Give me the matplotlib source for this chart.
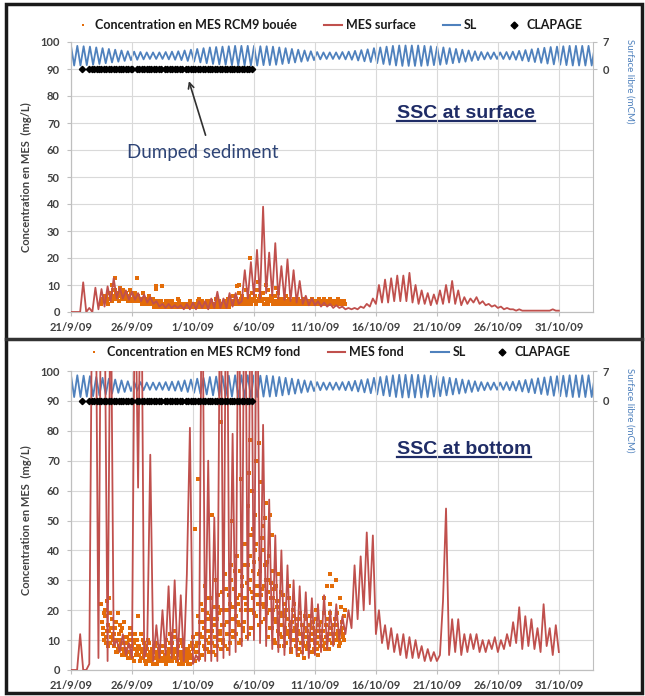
import matplotlib
matplotlib.use('Agg')
import matplotlib.pyplot as plt
import numpy as np
from matplotlib.lines import Line2D

plt.rcParams['font.family'] = ['Lato', 'DejaVu Sans']

ORANGE = '#E36C09'
RED = '#C0504D'
BLUE = '#4F81BD'
GRID = '#D9D9D9'
TXT = '#404040'

# x axis: days since 21/9/09
tick_days = [0, 5, 10, 15, 20, 25, 30, 35, 40]
tick_labels = ['21/9/09', '26/9/09', '1/10/09', '6/10/09', '11/10/09',
               '16/10/09', '21/10/09', '26/10/09', '31/10/09']

# SL (surface libre, mCM) - high and low water of each tide
sl_high = [6.0, 6.0, 5.9, 5.8, 5.6, 5.4, 5.2, 5.0, 4.8, 4.6, 4.5, 4.4,
           4.3, 4.3, 4.3, 4.4, 4.5, 4.6, 4.8, 5.0, 5.2, 5.4, 5.6, 5.7,
           5.8, 5.9, 6.0, 6.0, 6.0, 6.0, 5.9, 5.9, 5.8, 5.6, 5.4, 5.2,
           5.0, 4.8, 4.6, 4.4, 4.3, 4.3, 4.3, 4.4, 4.5, 4.7, 4.9, 5.1,
           5.4, 5.6, 5.8, 6.0, 6.1, 6.1, 6.1, 6.1, 6.0, 5.9, 5.8, 5.6,
           5.4, 5.2, 5.0, 4.8, 4.6, 4.4, 4.3, 4.3, 4.3, 4.4, 4.5, 4.7,
           4.9, 5.1, 5.3, 5.5, 5.7, 5.8, 5.9, 6.0, 6.0, 6.0, 6.0, 6.0]
sl_low = [0.9, 0.9, 1.0, 1.1, 1.3, 1.5, 1.7, 1.9, 2.1, 2.3, 2.4, 2.5,
          2.6, 2.6, 2.6, 2.5, 2.4, 2.3, 2.1, 1.9, 1.7, 1.5, 1.3, 1.2,
          1.1, 1.0, 0.9, 0.9, 0.9, 0.9, 1.0, 1.0, 1.1, 1.3, 1.5, 1.7,
          1.9, 2.1, 2.3, 2.5, 2.6, 2.6, 2.6, 2.5, 2.4, 2.2, 2.0, 1.8,
          1.5, 1.3, 1.1, 0.9, 0.8, 0.8, 0.8, 0.8, 0.9, 1.0, 1.1, 1.3,
          1.5, 1.7, 1.9, 2.1, 2.3, 2.5, 2.6, 2.6, 2.6, 2.5, 2.4, 2.2,
          2.0, 1.8, 1.6, 1.4, 1.2, 1.1, 1.0, 0.9, 0.9, 0.9, 0.9, 0.9]
TIDE = 0.5175  # days per tide

# MES model series, every 6 h from 21/9
mes_surface = [0, 0, 0, 0, 11, 0, 1.5, 0, 9, 1, 8.5, 2, 9.5, 4, 12.5, 5,
               9, 5, 8, 4.5, 7.5, 4.5, 7, 4, 6.5, 3.5, 5.5, 3, 4, 2, 3, 1.5,
               3, 1.5, 2.5, 1.5, 2.5, 1, 3, 1, 3.5, 1, 4, 1.5, 4, 1, 5, 1.5,
               7.5, 1.5, 5, 1.5, 7, 2, 7, 3, 4, 15.5, 5, 18.5, 6, 23, 5, 39,
               7, 22, 6, 25.5, 5, 17, 4.5, 19.5, 4, 15.5, 3.5, 11.5, 3, 6, 2.5, 5,
               2.5, 4, 2, 3.5, 2, 3, 1.5, 2.5, 1.5, 2, 1, 1.5, 1, 1.5, 1, 2,
               1.5, 3, 2, 5, 3, 10, 3.5, 12, 3.5, 12.5, 4, 13.5, 4, 13.5, 4, 14.5,
               3.5, 10, 3, 8, 3, 7, 2.5, 6.5, 3, 8, 3, 10, 3.5, 11.5, 3, 8,
               2.5, 5.5, 3, 5, 3.5, 5.5, 3, 4, 2.5, 3, 2, 2.5, 1.5, 2, 1, 1.5,
               1, 1, 0.5, 1, 0.5, 0.5, 0.5, 0.5, 0.5, 0.5, 0.5, 0.5, 0.5, 0.5, 1, 0.5,
               0.5]
mes_fond = [0, 0, 0, 12, 0, 0, 2, 140, 150, 4, 160, 130, 3, 140, 8, 10,
            6, 12, 5, 9, 4, 140, 61, 150, 4, 8, 72, 3, 15, 4, 20, 5,
            28, 4, 30, 3, 25, 3, 32, 81, 2, 5, 3, 150, 3, 70, 3, 51,
            3, 150, 4, 160, 5, 79, 6, 150, 8, 160, 10, 150, 10, 150, 9, 82,
            8, 57, 7, 45, 6, 40, 5, 35, 6, 30, 5, 28, 5, 26, 4, 24,
            5, 22, 6, 25, 7, 20, 8, 22, 10, 18, 12, 20, 14, 35, 17, 38,
            20, 46, 22, 45, 12, 20, 9, 15, 7, 14, 6, 12, 5, 12, 4, 11,
            4, 10, 4, 8, 3, 7, 3, 6, 3, 5, 23, 54, 5, 17, 6, 17,
            5, 12, 6, 12, 7, 12, 6, 10, 6, 10, 7, 11, 6, 10, 7, 12,
            8, 16, 9, 21, 7, 18, 8, 17, 7, 14, 6, 22, 8, 14, 5, 15,
            6]
MES_STEP = 0.25

# RCM9 measurements, every 3 h from 23/9 12h (interleaved records)
rcm9_bouee_a = [3, 5, 4, 6, 3, 5, 7, 4, 6, 8, 5, 7, 9, 6, 8, 5,
                7, 5, 6, 8, 4, 6, 7, 5, 6, 4, 5, 7, 4, 5, 3, 6,
                4, 3, 5, 3, 4, 2, 3, 4, 3, 2, 4, 3, 2, 3, 4, 2,
                3, 2, 3, 4, 2, 3, 2, 3, 2, 3, 4, 2, 3, 2, 3, 4,
                3, 2, 4, 3, 2, 4, 3, 2, 4, 3, 2, 5, 3, 4, 2, 3,
                3, 4, 2, 5, 4, 3, 6, 4, 5, 3, 7, 4, 6, 3, 5, 8,
                4, 6, 3, 7, 5, 4, 8, 5, 6, 4, 7, 3, 5, 8, 4, 6,
                5, 3, 6, 4, 7, 3, 5, 4, 4, 6, 3, 5, 4, 3, 5, 4,
                3, 5, 4, 3, 4, 5, 3, 4, 4, 3, 5, 4, 3, 4, 3, 5,
                3, 4, 5, 3, 4, 3, 5, 4, 4, 3, 4, 5, 3, 4, 3, 4]
rcm9_bouee_b = [4, 6, 5, 4, 7, 5, 6, 8, 5, 7, 6, 4, 7, 5, 6, 7,
                6, 4, 5, 7, 5, 6, 4, 5, 4, 5, 3, 4, 5, 3, 4, 5,
                3, 4, 2, 3, 3, 4, 2, 3, 2, 3, 3, 2, 4, 2, 3, 3,
                2, 3, 2, 2, 3, 2, 3, 2, 3, 2, 2, 3, 2, 3, 2, 3,
                2, 3, 3, 2, 3, 2, 2, 3, 3, 2, 3, 2, 4, 2, 3, 2,
                2, 3, 3, 2, 3, 4, 3, 3, 4, 4, 3, 5, 4, 5, 4, 3,
                5, 4, 5, 4, 6, 3, 4, 5, 4, 5, 3, 5, 4, 3, 5, 4,
                3, 4, 4, 3, 5, 4, 3, 5, 3, 4, 4, 3, 3, 4, 4, 3,
                4, 3, 3, 4, 3, 3, 4, 3, 3, 4, 3, 3, 4, 3, 4, 3,
                4, 3, 3, 4, 3, 4, 3, 3, 3, 4, 3, 3, 4, 3, 4, 3]
bouee_extra_t = [3.4, 3.6, 4.0, 5.4, 7.0, 7.0, 7.5, 8.8, 10.5, 12.0,
                 13.6, 13.8, 14.7, 15.3, 16.0, 16.8]
bouee_extra_v = [10, 12.5, 9, 12.6, 8.5, 9.5, 9.5, 5, 5, 5,
                 9.6, 10, 20, 11, 10, 9]

rcm9_fond_a = [22, 12, 18, 9, 15, 24, 11, 17, 8, 14, 6, 19, 10, 13, 7, 16,
               5, 11, 8, 14, 4, 9, 12, 6, 18, 7, 4, 10, 5, 8, 3, 9,
               4, 7, 2, 6, 9, 3, 5, 8, 6, 3, 10, 4, 7, 12, 3, 5,
               13, 4, 8, 2, 6, 9, 3, 7, 5, 2, 8, 4, 11, 3, 6, 18,
               9, 22, 5, 14, 28, 7, 17, 11, 24, 6, 15, 30, 8, 19, 12, 26,
               10, 32, 16, 7, 22, 35, 13, 27, 18, 38, 9, 25, 31, 14, 42, 20,
               35, 12, 45, 26, 19, 40, 28, 15, 33, 22, 48, 17, 30, 11, 38, 24,
               14, 27, 9, 21, 32, 12, 18, 25, 8, 20, 13, 28, 6, 16, 22, 10,
               15, 5, 19, 9, 12, 4, 17, 7, 11, 18, 6, 14, 9, 20, 5, 13,
               16, 8, 24, 11, 28, 7, 19, 12, 9, 17, 30, 13, 8, 21, 14, 18]
rcm9_fond_b = [16, 10, 20, 13, 8, 19, 14, 10, 12, 6, 10, 8, 15, 5, 9, 11,
               7, 4, 10, 6, 8, 3, 7, 10, 5, 3, 7, 4, 6, 2, 5, 4,
               3, 5, 4, 8, 2, 6, 4, 3, 4, 8, 2, 5, 3, 6, 9, 4,
               6, 3, 5, 10, 4, 2, 5, 3, 3, 6, 2, 4, 7, 3, 9, 6,
               12, 5, 16, 8, 10, 19, 6, 13, 9, 17, 11, 5, 21, 10, 7, 15,
               20, 8, 12, 25, 9, 17, 11, 21, 12, 22, 15, 10, 28, 16, 24, 11,
               20, 30, 14, 24, 36, 18, 25, 32, 16, 27, 21, 35, 19, 26, 14, 29,
               20, 10, 16, 23, 8, 15, 11, 19, 14, 9, 17, 11, 7, 13, 18, 8,
               10, 7, 12, 6, 9, 14, 8, 11, 8, 12, 10, 7, 13, 9, 11, 8,
               10, 13, 9, 15, 12, 10, 14, 9, 12, 10, 15, 11, 9, 13, 11, 10]
rcm9_fond_c = [14, 19, 11, 23, 13, 9, 17, 12, 10, 16, 7, 12, 9, 14, 6, 11,
               9, 6, 12, 5, 10, 7, 5, 8, 8, 12, 6, 9, 3, 7, 10, 6,
               6, 2, 8, 4, 5, 7, 3, 6, 8, 5, 6, 3, 9, 4, 7, 11,
               4, 7, 10, 5, 3, 8, 6, 4, 7, 4, 5, 9, 3, 8, 12, 4,
               16, 11, 20, 7, 13, 24, 9, 18, 13, 21, 8, 17, 25, 13, 20, 9,
               15, 27, 20, 12, 30, 21, 17, 33, 24, 16, 33, 20, 13, 35, 22, 29,
               27, 38, 20, 33, 25, 42, 22, 37, 25, 40, 28, 22, 36, 30, 20, 33,
               24, 17, 28, 13, 19, 26, 15, 22, 18, 12, 24, 15, 10, 20, 14, 17,
               13, 17, 9, 15, 11, 18, 13, 9, 15, 10, 16, 12, 17, 7, 15, 11,
               13, 19, 7, 17, 10, 22, 12, 15, 15, 12, 19, 10, 24, 16, 12, 20]
fond_extra_t = [10.2, 10.4, 11.6, 12.3, 13.2, 13.9, 14.5, 14.6, 14.7, 14.8,
                14.9, 15.1, 15.2, 15.4, 15.6, 15.7, 15.9, 16.0, 16.3, 16.5,
                21.2, 21.4]
fond_extra_v = [47, 64, 52, 83, 50, 64, 55, 66, 77, 60,
                47, 52, 70, 76, 63, 44, 51, 56, 52, 45,
                32, 28]
RCM_START = 2.5
RCM_STEP = 0.125

# dumping events (CLAPAGE), plotted at 90
clapage_t = [0.9, 1.5, 1.7, 1.9, 2.1, 2.3, 2.5, 2.7, 2.9, 3.1, 3.3, 3.5,
             3.7, 3.9, 4.1, 4.3, 4.5, 4.7, 4.9, 5.0, 5.4, 5.6, 5.8, 6.0,
             6.2, 6.4, 6.6, 6.8, 7.0, 7.2, 7.4, 7.7, 7.9, 8.1, 8.3, 8.5,
             8.7, 8.9, 9.1, 9.4, 9.6, 9.8, 10.0, 10.2, 10.4, 10.6, 10.8,
             11.0, 11.2, 11.4, 11.6, 11.8, 12.0, 12.2, 12.4, 12.6, 12.8,
             13.0, 13.2, 13.4, 13.6, 13.8, 14.0, 14.2, 14.4, 14.6, 14.8]
CLAPAGE_LEVEL = 90

W, H = 645, 696
fig = plt.figure(figsize=(W / 100, H / 100), dpi=100)


def px(x0, y0, w, h):
    return [x0 / W, 1 - (y0 + h) / H, w / W, h / H]


sl_t = np.arange(2 * len(sl_high)) * TIDE / 2
sl = np.empty(2 * len(sl_high))
sl[0::2] = sl_high
sl[1::2] = sl_low


def draw_panel(rect, mes, records, ex_t, ex_v):
    ax = fig.add_axes(rect)
    ax2 = ax.twinx()
    ax.set_zorder(2)
    ax2.set_zorder(1)
    ax.patch.set_visible(False)

    series = []
    for k, rec in enumerate(records):
        t0 = RCM_START + k * RCM_STEP / len(records)
        series.append((t0 + np.arange(len(rec)) * RCM_STEP, rec))
    series.append((ex_t, ex_v))
    for tt, vv in series:
        ax.plot(tt, vv, ls='none', marker='s', ms=2.3, mew=0, color=ORANGE, zorder=3)
    ax.plot(np.arange(len(mes)) * MES_STEP, mes, color=RED, lw=1.3, zorder=4)
    ax.plot(clapage_t, [CLAPAGE_LEVEL] * len(clapage_t), ls='none', marker='D',
            ms=3.2, color='black', zorder=5)
    ax2.plot(sl_t, sl, color=BLUE, lw=1.3)

    ax.set_xlim(0, 42.8)
    ax.set_ylim(0, 100)
    ax2.set_ylim(-63, 7)
    ax.set_xticks(tick_days)
    ax.set_xticklabels(tick_labels)
    ax.set_yticks(range(0, 101, 10))
    ax2.set_yticks([0, 7])
    ax.grid(True, color=GRID, lw=0.8)
    ax.set_axisbelow(True)
    for a in (ax, ax2):
        for s in a.spines.values():
            s.set_color('#BFBFBF')
        a.spines['top'].set_visible(False)
    ax.spines['right'].set_visible(False)
    ax.tick_params(axis='both', length=3, color='#BFBFBF', labelsize=8, labelcolor=TXT)
    ax.tick_params(axis='y', pad=5)
    ax.tick_params(axis='x', pad=4)
    ax2.tick_params(axis='y', length=3, color='#BFBFBF', labelsize=8, labelcolor=TXT, pad=4)
    for lab in ax.get_xticklabels() + ax.get_yticklabels() + ax2.get_yticklabels():
        lab.set_fontweight('bold')
    ax.set_ylabel('Concentration en MES  (mg/L)', fontsize=8, fontweight='bold', color=TXT)
    ax.yaxis.set_label_coords(-(71 - 32) / 522, 0.5)
    return ax


def underlined(ax, x, y, s, **kw):
    t = ax.text(x, y, s, ha='center', va='center', **kw)
    fig.canvas.draw()
    bb = t.get_window_extent().transformed(fig.transFigure.inverted())
    fig.add_artist(Line2D([bb.x0, bb.x1], [bb.y0 + 1.0 / H, bb.y0 + 1.0 / H],
                          color=kw.get('color', 'k'), lw=1.6))


ax_top = draw_panel(px(71, 42, 522, 270), mes_surface, [rcm9_bouee_a, rcm9_bouee_b],
                    bouee_extra_t, bouee_extra_v)
ax_bot = draw_panel(px(71, 371, 522, 299), mes_fond, [rcm9_fond_a, rcm9_fond_b, rcm9_fond_c],
                    fond_extra_t, fond_extra_v)

# annotations
ax_top.annotate('', xy=(9.6, 86.5), xytext=(11.1, 64.5),
                arrowprops=dict(arrowstyle='->', color='#303030', lw=1.2))
ax_top.text(10.8, 59, 'Dumped sediment', ha='center', va='center',
            fontsize=13.5, color='#2E4476')
underlined(ax_top, 32.4, 73.5, 'SSC at surface', fontsize=14, fontweight='bold',
           color='#1F2C66', family='Liberation Sans')
underlined(ax_bot, 32.2, 73.8, 'SSC at bottom', fontsize=14, fontweight='bold',
           color='#1F2C66', family='Liberation Sans')

# right axis titles
for yc in (81, 410):
    fig.text(630 / W, 1 - yc / H, 'Surface libre (mCM)', rotation=270, ha='center',
             va='center', fontsize=7, color=BLUE)


# legends
def legend_handles(name, model):
    return ([Line2D([], [], ls='none', marker='s', ms=2, mew=0, color=ORANGE),
             Line2D([], [], color=RED, lw=1.5),
             Line2D([], [], color=BLUE, lw=1.5),
             Line2D([], [], ls='none', marker='D', ms=3.5, color='black')],
            [name, model, 'SL', 'CLAPAGE'])


for (hd, lb), yc in [(legend_handles('Concentration en MES RCM9 bouée', 'MES surface'), 25),
                     (legend_handles('Concentration en MES RCM9 fond', 'MES fond'), 352)]:
    leg = fig.legend(hd, lb, loc='center', bbox_to_anchor=(328 / W, 1 - yc / H), ncol=4,
                     frameon=False, fontsize=9, handlelength=1.4, handletextpad=0.3,
                     columnspacing=2.2)
    for t in leg.get_texts():
        t.set_fontweight('bold')
        t.set_color('#1A1A1A')

# panel frames
fig.add_artist(plt.Rectangle((6 / W, 3 / H), 636 / W, 689 / H, transform=fig.transFigure,
                             fill=False, lw=2.5, ec='#1A1A1A'))
fig.add_artist(Line2D([6 / W, 642 / W], [1 - 339 / H, 1 - 339 / H], color='#333333', lw=2.5))

fig.savefig('out.png', dpi=100)
